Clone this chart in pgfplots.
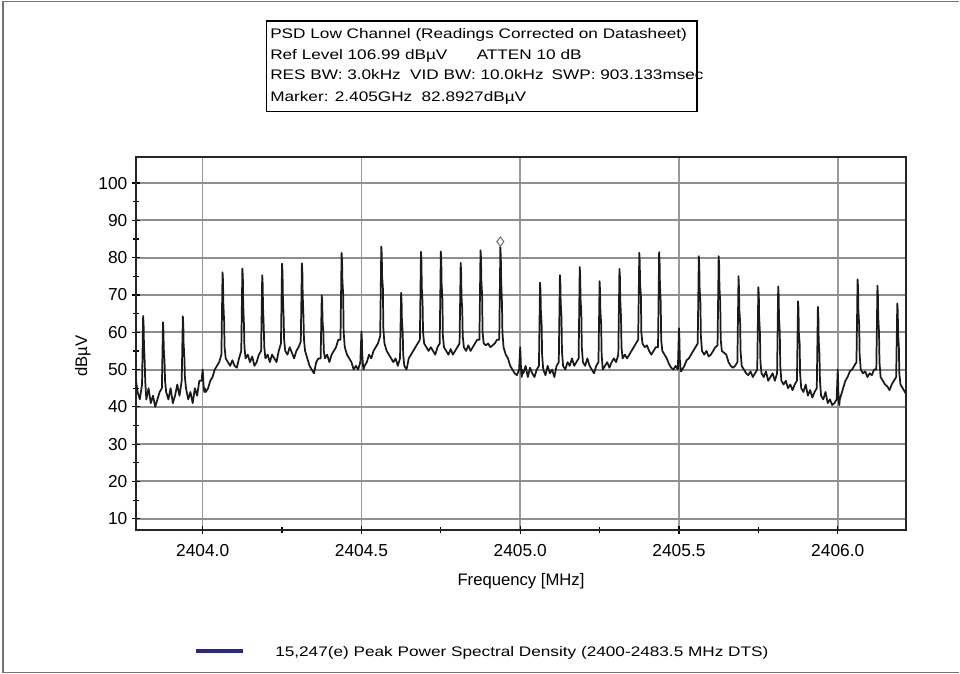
\documentclass[border=0pt]{standalone}
\usepackage{pgfplots}
\pgfplotsset{compat=1.18}
\usepackage{fontspec}
\setmainfont{Liberation Sans}
\newfontfamily\widefont{Liberation Sans}[FakeStretch=1.24]
\definecolor{gridgray}{HTML}{9A9A9A}
\definecolor{hgridgray}{HTML}{8E8E8E}
\definecolor{legblue}{HTML}{28288A}
\definecolor{tracec}{HTML}{1A1A1A}
\begin{document}
\begin{tikzpicture}
\path[use as bounding box] (0,0) rectangle (720pt,-505.5pt);
\begin{axis}[
  at={(102pt,-397.5pt)}, anchor=south west,
  scale only axis, width=577.5pt, height=279.75pt,
  xmin=-210, xmax=2215, ymin=6.99, ymax=106.99,
  xtick={0,500,1000,1500,2000},
  xticklabels={2404.0,2404.5,2405.0,2405.5,2406.0},
  ytick={10,20,...,100},
  minor x tick num=1, minor y tick num=1,
  tick pos=left, tick align=center,
  major tick length=6pt, minor tick length=4.5pt,
  xmajorgrids=true, ymajorgrids=true,
  major grid style={draw=gridgray, line width=1.2pt},
  major y grid style={draw=hgridgray, line width=1.5pt},
  axis line style={black!85, line width=1.3pt},
  major tick style={black, line width=0.9pt},
  minor tick style={black, line width=0.9pt},
  tick label style={font=\fontsize{13}{15}\selectfont},
  xticklabel style={yshift=-4.5pt},
  /pgf/number format/assume math mode=true,
  scaled x ticks=false,
  xlabel={Frequency [MHz]}, ylabel={dBµV},
  label style={font=\fontsize{12.5}{15}\selectfont},
  xlabel style={at={(axis description cs:0.5,0)}, anchor=center, yshift=-38.25pt},
  ylabel style={at={(axis description cs:-0.069,0.466)}, anchor=center},
  clip=true,
]
\addplot[tracec, line width=1.3pt, line join=round] coordinates {
(-210,47) (-205,44) (-198,42)
(-191,46) (-187.5,64.4) (-186,62) (-185,57) (-182.5,52) (-181,47) (-177.5,42) (-170.5,45) (-163.5,41) (-156.5,43) (-149.5,40) (-142.5,42) (-135.5,44)
(-128.5,45) (-125,62.7) (-123.5,60) (-122.5,55.5) (-120,52) (-118.5,47) (-115,44) (-108,42) (-101,45) (-94,41) (-87,43) (-80,46) (-73,43)
(-66,47) (-62.5,64.3) (-61,62) (-60,57) (-57.5,53) (-56,48) (-52.5,45) (-45.5,42) (-38.5,44) (-31.5,41) (-24.5,45) (-17.5,43) (-10.5,47)
(-3.5,47) (0,50) (1.5,48) (2.5,46) (5,44) (6.5,45) (10,44) (17,45) (24,47) (31,48) (38,50) (45,51) (52,52)
(59,54) (62.5,76.1) (64,74) (65,68) (67.5,63) (69,56) (72.5,53) (79.5,52) (86.5,51) (93.5,52.5) (100.5,51) (107.5,50.5) (114.5,53)
(121.5,55) (125,77.1) (126.5,75) (127.5,68) (130,62) (131.5,56) (135,53) (142,54) (149,52) (156,53.5) (163,51) (170,52) (177,54)
(184,55) (187.5,75.3) (189,73) (190,67) (192.5,61) (194,56) (197.5,53) (204.5,54) (211.5,52) (218.5,54) (225.5,53) (232.5,52) (239.5,55)
(246.5,57) (250,78.4) (251.5,76) (252.5,70) (255,64) (256.5,58) (260,55) (267,54) (274,56) (281,54.5) (288,53) (295,55) (302,56)
(309,57.5) (312.5,78.5) (314,76) (315,70) (317.5,64) (319,58) (322.5,55) (329.5,53) (336.5,51) (343.5,50) (350.5,49) (357.5,52) (364.5,53)
(371.5,53) (375,69.9) (376.5,68) (377.5,63) (380,60) (381.5,55) (385,53) (392,54) (399,52) (406,54) (413,55) (420,56) (427,58)
(434,58) (437.5,81.3) (439,79) (440,74) (442.5,70) (444,60) (447.5,56) (454.5,54) (461.5,53) (468.5,52) (475.5,50) (482.5,51) (489.5,50)
(496.5,52) (500,60.2) (501.5,58) (502.5,54) (505,51) (506.5,50) (510,51) (517,52) (524,54) (531,53) (538,55) (545,56) (552,57)
(559,59) (562.5,83) (564,81) (565,75) (567.5,72) (569,61) (572.5,57) (579.5,55) (586.5,54) (593.5,53) (600.5,52) (607.5,53) (614.5,51)
(621.5,53) (625,70.6) (626.5,68) (627.5,63) (630,60) (631.5,54) (635,51) (642,50) (649,53) (656,54) (663,55) (670,56) (677,57)
(684,58) (687.5,81.6) (689,79) (690,72) (692.5,68) (694,60) (697.5,57) (704.5,56) (711.5,55) (718.5,56) (725.5,55) (732.5,54) (739.5,56)
(746.5,57) (750,81.7) (751.5,79) (752.5,73) (755,69) (756.5,59) (760,56) (767,55) (774,54) (781,55.5) (788,54) (795,55) (802,56)
(809,57) (812.5,78.6) (814,76) (815,70) (817.5,66) (819,59) (822.5,56) (829.5,55) (836.5,56.5) (843.5,55) (850.5,56) (857.5,57) (864.5,58)
(871.5,58) (875,82) (876.5,80) (877.5,74) (880,70) (881.5,60) (885,57) (892,56.5) (899,57) (906,56) (913,56.5) (920,57) (927,58)
(934,58) (937.5,82.9) (939,80) (940,74) (942.5,68) (944,60) (947.5,56) (954.5,54) (961.5,53) (968.5,51) (975.5,50) (982.5,49) (989.5,48.5)
(996.5,50) (1000,56) (1001.5,53) (1002.5,50) (1005,48) (1006.5,50) (1010,49) (1017,51) (1024,48) (1031,50.5) (1038,49) (1045,48) (1052,50)
(1059,51) (1062.5,73.3) (1064,71) (1065,66) (1067.5,62) (1069,54) (1072.5,50) (1079.5,48.5) (1086.5,51) (1093.5,49) (1100.5,50) (1107.5,48) (1114.5,51)
(1121.5,52) (1125,75.3) (1126.5,73) (1127.5,68) (1130,64) (1131.5,55) (1135,51) (1142,50) (1149,52) (1156,51) (1163,53) (1170,51) (1177,52)
(1184,53) (1187.5,77.5) (1189,75) (1190,69) (1192.5,65) (1194,56) (1197.5,52) (1204.5,51) (1211.5,53) (1218.5,51) (1225.5,50) (1232.5,49) (1239.5,51)
(1246.5,52) (1250,73.7) (1251.5,71) (1252.5,66) (1255,62) (1256.5,54) (1260,50) (1267,51) (1274,52) (1281,50.5) (1288,52) (1295,53) (1302,52)
(1309,54) (1312.5,77) (1314,75) (1315,69) (1317.5,64) (1319,56) (1322.5,53) (1329.5,54) (1336.5,53) (1343.5,54) (1350.5,55) (1357.5,56) (1364.5,57)
(1371.5,58) (1375,81.3) (1376.5,79) (1377.5,73) (1380,70) (1381.5,60) (1385,57) (1392,56) (1399,56.5) (1406,55) (1413,54) (1420,55) (1427,56)
(1434,56) (1437.5,81.5) (1439,79) (1440,73) (1442.5,68) (1444,58) (1447.5,55) (1454.5,54) (1461.5,53) (1468.5,51.5) (1475.5,50.5) (1482.5,50) (1489.5,51)
(1496.5,50) (1500,61.1) (1501.5,58) (1502.5,53) (1505,50) (1506.5,49.5) (1510,50) (1517,51) (1524,52.5) (1531,53) (1538,54) (1545,55) (1552,56)
(1559,57) (1562.5,80.4) (1564,78) (1565,72) (1567.5,68) (1569,59) (1572.5,55) (1579.5,54) (1586.5,55) (1593.5,53.5) (1600.5,54) (1607.5,55) (1614.5,56)
(1621.5,56.5) (1625,80.4) (1626.5,78) (1627.5,72) (1630,68) (1631.5,58) (1635,55) (1642,54.5) (1649,54) (1656,52) (1663,51) (1670,50.5) (1677,51)
(1684,52) (1687.5,75) (1689,72) (1690,66) (1692.5,63) (1694,55) (1697.5,51) (1704.5,50) (1711.5,49) (1718.5,48.5) (1725.5,49.5) (1732.5,48) (1739.5,49)
(1746.5,50) (1750,72.1) (1751.5,70) (1752.5,64) (1755,60) (1756.5,52) (1760,49) (1767,48) (1774,49.5) (1781,47) (1788,48) (1795,49) (1802,47)
(1809,49) (1812.5,72.3) (1814,70) (1815,64) (1817.5,60) (1819,51) (1822.5,47) (1829.5,46) (1836.5,47) (1843.5,45) (1850.5,46) (1857.5,44.5) (1864.5,46)
(1871.5,47) (1875,68.3) (1876.5,66) (1877.5,60) (1880,57) (1881.5,49) (1885,45) (1892,44) (1899,46) (1906,43) (1913,44.5) (1920,42.5) (1927,44)
(1934,45) (1937.5,66.8) (1939,64) (1940,58) (1942.5,54) (1944,47) (1947.5,43) (1954.5,42) (1961.5,44) (1968.5,41) (1975.5,42) (1982.5,40.5) (1989.5,41)
(1996.5,42) (2000,50) (2001.5,46) (2002.5,42) (2005,40.5) (2006.5,42) (2010,43) (2017,45) (2024,47) (2031,48) (2038,49.5) (2045,50) (2052,51)
(2059,52) (2062.5,74.2) (2064,72) (2065,66) (2067.5,62) (2069,54) (2072.5,50) (2079.5,49) (2086.5,49.5) (2093.5,48) (2100.5,49) (2107.5,48.5) (2114.5,50)
(2121.5,50) (2125,72.5) (2126.5,70) (2127.5,64) (2130,60) (2131.5,52) (2135,48) (2142,47) (2149,46) (2156,45.5) (2163,44.5) (2170,46) (2177,47)
(2184,48) (2187.5,67.7) (2189,66) (2190,60) (2192.5,56) (2194,49) (2197.5,46) (2204.5,45) (2211.5,44) (2215,43.5)
};
\addplot[only marks, mark=diamond, mark size=3.5pt, mark options={draw=black!55, fill=white, line width=0.8pt}] coordinates {(937.5,84.3)};
\end{axis}
\begin{scope}[x=0.75pt,y=-0.75pt]
\draw[black!55, line width=1.2pt] (958.5,1.5) -- (3,1.5) -- (3,672.5) -- (958.5,672.5);
\draw[black, line width=1.1pt, fill=white] (266.5,21) rectangle (697,111.5);
\begin{scope}[every node/.style={anchor=base west, inner sep=0pt, font=\widefont\fontsize{10.4}{12}\selectfont}]
\node at (270,38.5) {PSD Low Channel (Readings Corrected on Datasheet)};
\node at (270,59.5) {Ref Level 106.99 dBµV\hspace*{22pt}ATTEN 10 dB};
\node at (270,79.5) {RES BW: 3.0kHz\hspace*{7pt}VID BW: 10.0kHz\hspace*{6pt}SWP: 903.133msec};
\node at (270,101) {Marker: 2.405GHz\hspace*{7pt}82.8927dBµV};
\node at (275,656) {15,247(e) Peak Power Spectral Density (2400-2483.5 MHz DTS)};
\end{scope}
\draw[legblue, line width=2.6pt] (196,651) -- (243,651);
\end{scope}
\end{tikzpicture}
\end{document}
